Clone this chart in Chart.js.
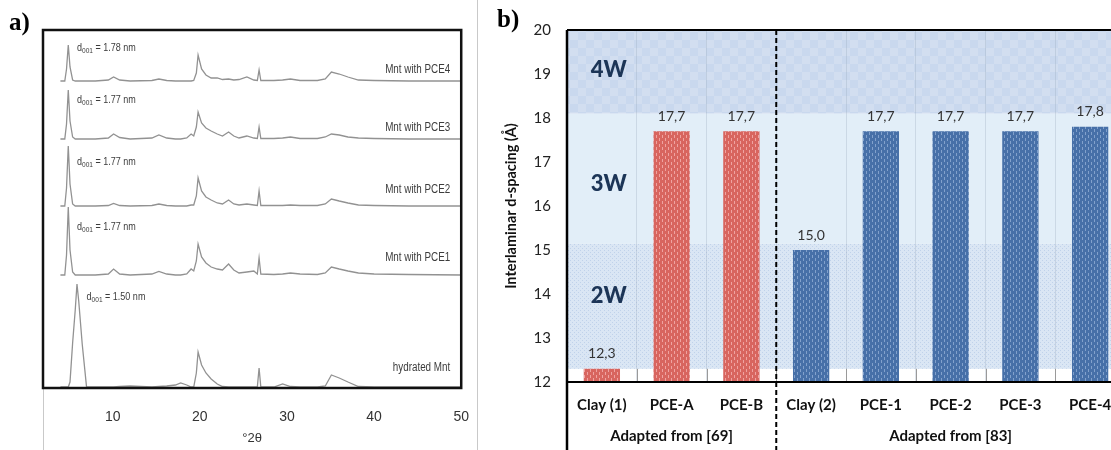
<!DOCTYPE html>
<html lang="en">
<head>
<meta charset="UTF-8">
<title>XRD patterns and interlaminar d-spacing</title>
<script src="https://cdn.jsdelivr.net/npm/chart.js@4.4.0"></script>
<style>
  body { margin: 0; width: 1111px; height: 450px; overflow: hidden; background: #fff; position: relative; }
  canvas { position: absolute; top: 0; }
  #xrd { left: 0; }
  #spacing { left: 490px; }
  .tag { position: absolute; font: bold 25px "Liberation Serif", serif; line-height: 1; color: #000; }
</style>
</head>
<body>
<canvas id="xrd" width="490" height="450"></canvas>
<canvas id="spacing" width="640" height="450"></canvas>
<div class="tag" style="left:9px; top:9px">a)</div>
<div class="tag" style="left:497px; top:6px">b)</div>

<script>
  // ---------- a) XRD patterns ----------
  const twoTheta = [
    4.0, 4.5, 4.7, 4.9, 5.1, 5.4, 5.7, 5.9, 6.1, 6.5, 7.0, 8.0, 9.5,
    10.1, 10.8, 12.0, 14.5, 15.3, 16.2, 17.2, 17.8, 18.5, 19.0, 19.3, 19.6, 19.8,
    20.2, 20.7, 21.3, 22.0, 22.6, 23.3, 23.9, 24.5, 25.4, 26.2, 26.6, 26.8, 27.0,
    28.5, 29.5, 30.4, 31.5, 33.5, 34.4, 35.1, 36.0, 37.0, 38.2, 40.0, 44.0, 50.0
  ];
  const hydratedMnt = [
    0, 0, 0, 0, 5, 44, 77, 103, 86, 43, 0, 0, 0,
    0, 0.5, 1, 0, 0.5, 1, 2, 4, 2, 0, 0, 14, 35,
    22, 14, 8, 3, 0.5, 0, 0, 0, 0, 0, 0, 19, 0,
    0, 3, 0.5, 0, 0, 1, 12, 9, 5, 0.5, 0, 0, 0
  ];
  const mntPCE1 = [
    0, 0, 20, 68, 25, 3, 0, 0, 0, 0, 0, 0, 1,
    6, 1, 0, 1, 3.5, 1, 0, 0, 1, 6, 4, 14, 31,
    18, 12, 8, 6, 5, 11, 5, 2, 3, 4, 1, 17, 1,
    0.5, 1, 2, 1, 0.5, 2, 8, 6, 4, 2, 1, 0.5, 0
  ];
  const mntPCE2 = [
    0, 0, 18, 60, 22, 2, 0, 0, 0, 0, 0, 0, 0.5,
    2.5, 0.5, 0, 0.5, 2, 0.5, 0, 0, 0, 1, 1, 10, 28,
    15, 9, 6, 3, 2, 6, 2, 1, 2, 1, 0.5, 15, 0.5,
    0.5, 0.5, 1, 0.5, 0.5, 2, 7, 5, 3, 1, 0.5, 0, 0
  ];
  const mntPCE3 = [
    0, 0, 15, 49, 18, 2, 0, 0, 0, 0, 0, 0, 1,
    5, 1.5, 0, 1, 4, 1, 0, 0, 1, 5, 3, 12, 27,
    16, 11, 8, 5, 3, 7, 3, 1, 3, 1, 0.5, 12, 0.5,
    0.5, 1, 2, 0.5, 0.5, 2, 5, 4, 2, 1, 0.5, 0, 0
  ];
  const mntPCE4 = [
    0, 0, 12, 36, 14, 1, 0, 0, 0, 0, 0, 0, 1,
    4, 1, 0, 0.5, 2, 0.5, 0, 0, 0, 0, 0.5, 8, 26,
    12, 6, 3, 3, 1.5, 2, 1, 1.5, 4, 1, 0.5, 11, 0.5,
    0.5, 1, 2, 0.5, 0.5, 2, 9, 7, 4, 1, 0.5, 0, 0
  ];
  const traceNames = ['hydrated Mnt', 'Mnt with PCE1', 'Mnt with PCE2', 'Mnt with PCE3', 'Mnt with PCE4'];
  const traceOffsets = [1, 113, 182, 249, 307];
  const d001Values = ['1.50', '1.77', '1.77', '1.77', '1.78'];
  const xrdTicks = [10, 20, 30, 40, 50];

  // ---------- b) interlaminar d-spacing ----------
  const samples = ['Clay (1)', 'PCE-A', 'PCE-B', 'Clay (2)', 'PCE-1', 'PCE-2', 'PCE-3', 'PCE-4'];
  const dSpacing = [12.3, 17.7, 17.7, 15.0, 17.7, 17.7, 17.7, 17.8];
  const groupNames = ['Adapted from [69]', 'Adapted from [83]'];
  const groupSizes = [3, 5];
  const bandEdges = [12.3, 15.15, 18.1, 20];
  const bandNames = ['2W', '3W', '4W'];

  const SANS = '"Liberation Sans", Arial, sans-serif';
  const SQUEEZE = 0.82;   // condensed look for the pattern annotations

  const xrdSeries = [hydratedMnt, mntPCE1, mntPCE2, mntPCE3, mntPCE4];

  // where the annotations sit, in axis units
  const xrdLabels = {
    nameY: [20, 130, 198, 260, 318],
    dX: [7.0, 5.9, 5.9, 5.9, 5.9],
    dY: [91, 161, 226, 288, 340]
  };

  // draws text squeezed horizontally; returns its drawn width
  function narrowText(ctx, text, x, y, font, align) {
    ctx.font = font;
    const w = ctx.measureText(text).width * SQUEEZE;
    const left = align === 'right' ? x - w : x;
    ctx.save();
    ctx.translate(left, y);
    ctx.scale(SQUEEZE, 1);
    ctx.textAlign = 'left';
    ctx.textBaseline = 'middle';
    ctx.fillText(text, 0, 0);
    ctx.restore();
    return w;
  }

  function drawD(ctx, x, y, val) {
    let w = narrowText(ctx, 'd', x, y, '11px ' + SANS, 'left');
    w += narrowText(ctx, '001', x + w, y + 3, '8px ' + SANS, 'left');
    narrowText(ctx, ' = ' + val + ' nm', x + w, y, '11px ' + SANS, 'left');
  }

  const xrdDecor = {
    id: 'xrdDecor',
    afterDraw(chart) {
      const { ctx, chartArea: a, scales: { x, y } } = chart;
      ctx.save();
      ctx.strokeStyle = '#c9c9c9';
      ctx.lineWidth = 1;
      ctx.beginPath();
      ctx.moveTo(a.left + 0.5, a.bottom);
      ctx.lineTo(a.left + 0.5, chart.height);
      ctx.moveTo(477.5, 0);
      ctx.lineTo(477.5, chart.height);
      ctx.stroke();

      ctx.strokeStyle = '#111';
      ctx.lineWidth = 2.5;
      ctx.strokeRect(a.left, a.top, a.right - a.left, a.bottom - a.top);

      ctx.fillStyle = '#3c3c3c';
      traceNames.forEach((name, i) => {
        narrowText(ctx, name, a.right - 11, y.getPixelForValue(xrdLabels.nameY[i]), '12px ' + SANS, 'right');
        drawD(ctx, x.getPixelForValue(xrdLabels.dX[i]), y.getPixelForValue(xrdLabels.dY[i]), d001Values[i]);
      });
      ctx.restore();
    }
  };

  new Chart(document.getElementById('xrd'), {
    type: 'line',
    data: {
      datasets: xrdSeries.map((vals, i) => ({
        label: traceNames[i],
        data: twoTheta.map((t, k) => ({ x: t, y: vals[k] + traceOffsets[i] })),
        borderColor: '#929292',
        borderWidth: 1.3,
        pointRadius: 0,
        tension: 0
      }))
    },
    options: {
      responsive: false,
      animation: false,
      layout: { padding: { left: 43, right: 24, top: 30, bottom: 0 } },
      plugins: { legend: { display: false }, tooltip: { enabled: false } },
      scales: {
        x: {
          type: 'linear',
          min: 2,
          max: 50,
          grid: { display: false, drawTicks: false },
          border: { display: false },
          afterBuildTicks: s => { s.ticks = xrdTicks.map(v => ({ value: v })); },
          ticks: { padding: 21, color: '#333', font: { family: SANS, size: 14 } },
          title: { display: true, text: '°2θ', color: '#333', font: { family: SANS, size: 13 }, padding: { top: 0, bottom: 4 } },
          afterFit: s => { s.height = 62; }
        },
        y: { display: false, min: 0, max: 358 }
      }
    },
    plugins: [xrdDecor]
  });

  // ---------- fills for panel b ----------
  function makePattern(w, h, draw) {
    const c = document.createElement('canvas');
    c.width = w;
    c.height = h;
    const g = c.getContext('2d');
    draw(g);
    return g.createPattern(c, 'repeat');
  }

  const redFill = makePattern(6, 6, g => {
    g.fillStyle = '#d8655f';
    g.fillRect(0, 0, 6, 6);
    g.fillStyle = 'rgba(255,205,205,0.6)';
    g.fillRect(1, 0, 1, 3);
    g.fillRect(4, 3, 1, 3);
  });
  const blueFill = makePattern(6, 6, g => {
    g.fillStyle = '#4770a8';
    g.fillRect(0, 0, 6, 6);
    g.fillStyle = 'rgba(190,210,240,0.5)';
    g.fillRect(1, 0, 1, 3);
    g.fillRect(4, 3, 1, 3);
  });
  const bandFills = [
    makePattern(4, 4, g => {
      g.fillStyle = '#dae6f4';
      g.fillRect(0, 0, 4, 4);
      g.fillStyle = '#c0d2ea';
      g.fillRect(0, 0, 1, 1);
      g.fillRect(2, 2, 1, 1);
    }),
    '#e2eef8',
    makePattern(16, 16, g => {
      g.fillStyle = '#c9d8ee';
      g.fillRect(0, 0, 16, 16);
      g.fillStyle = '#d2def0';
      g.fillRect(0, 0, 8, 8);
      g.fillRect(8, 8, 8, 8);
    })
  ];

  const groupOf = i => {
    let end = 0;
    for (let g = 0; g < groupSizes.length; g++) {
      end += groupSizes[g];
      if (i < end) return g;
    }
    return groupSizes.length - 1;
  };

  const bandLabelAt = [13.95, 16.5, 19.1];

  const spacingDecor = {
    id: 'spacingDecor',
    beforeDraw(chart) {
      const { ctx, chartArea: a, scales: { y } } = chart;
      ctx.save();
      bandNames.forEach((n, i) => {
        const top = y.getPixelForValue(bandEdges[i + 1]);
        const bot = y.getPixelForValue(bandEdges[i]);
        ctx.fillStyle = bandFills[i];
        ctx.fillRect(a.left, top, a.right - a.left, bot - top);
      });
      ctx.restore();
    },
    afterDatasetsDraw(chart) {
      const { ctx, scales: { x, y } } = chart;
      ctx.save();
      // separators in the white strip under the 2W band
      ctx.strokeStyle = '#9a9a9a';
      ctx.lineWidth = 1;
      ctx.beginPath();
      for (let k = 1; k < samples.length; k++) {
        const px = Math.round((x.getPixelForValue(k - 1) + x.getPixelForValue(k)) / 2) + 0.5;
        ctx.moveTo(px, y.getPixelForValue(12));
        ctx.lineTo(px, y.getPixelForValue(bandEdges[0]));
      }
      ctx.stroke();

      // value labels
      ctx.fillStyle = '#333';
      ctx.font = '14px Lato, sans-serif';
      ctx.textAlign = 'center';
      ctx.textBaseline = 'middle';
      chart.getDatasetMeta(0).data.forEach((bar, i) => {
        ctx.fillText(dSpacing[i].toFixed(1).replace('.', ','), bar.x, bar.y - 15);
      });

      // hydration states
      ctx.fillStyle = '#1c3557';
      ctx.font = '900 22px Lato, sans-serif';
      bandNames.forEach((n, i) => {
        ctx.fillText(n, x.getPixelForValue(0) + 7, y.getPixelForValue(bandLabelAt[i]));
      });
      ctx.restore();
    },
    afterDraw(chart) {
      const { ctx, chartArea: a, scales: { x } } = chart;
      ctx.save();
      ctx.strokeStyle = '#000';
      ctx.lineWidth = 2.5;
      ctx.beginPath();
      ctx.moveTo(a.left, a.top);
      ctx.lineTo(a.left, chart.height);
      ctx.stroke();
      ctx.lineWidth = 2;
      ctx.beginPath();
      ctx.moveTo(a.left, a.top);
      ctx.lineTo(a.right, a.top);
      ctx.moveTo(a.left, a.bottom);
      ctx.lineTo(a.right, a.bottom);
      ctx.stroke();

      // dashed divider between the two sources
      const last = groupSizes[0] - 1;
      const divX = (x.getPixelForValue(last) + x.getPixelForValue(last + 1)) / 2;
      ctx.setLineDash([5, 3]);
      ctx.beginPath();
      ctx.moveTo(divX, a.top);
      ctx.lineTo(divX, chart.height);
      ctx.stroke();
      ctx.setLineDash([]);

      // source captions
      ctx.fillStyle = '#111';
      ctx.font = 'bold 15px Lato, sans-serif';
      ctx.textAlign = 'center';
      ctx.textBaseline = 'middle';
      let start = 0;
      groupNames.forEach((name, g) => {
        const end = start + groupSizes[g] - 1;
        const cx = (x.getPixelForValue(start) + x.getPixelForValue(end)) / 2;
        ctx.fillText(name, cx, chart.height - 14);
        start = end + 1;
      });
      ctx.restore();
    }
  };

  new Chart(document.getElementById('spacing'), {
    type: 'bar',
    data: {
      labels: samples,
      datasets: [{
        data: dSpacing,
        backgroundColor: samples.map((s, i) => groupOf(i) === 0 ? redFill : blueFill),
        borderWidth: 0,
        barPercentage: 0.52,
        categoryPercentage: 1
      }]
    },
    options: {
      responsive: false,
      animation: false,
      layout: { padding: { left: 0, right: 5, top: 30, bottom: 0 } },
      plugins: { legend: { display: false }, tooltip: { enabled: false } },
      scales: {
        x: {
          grid: { color: 'rgba(150,165,185,0.3)', drawTicks: false, offset: true },
          border: { display: false },
          ticks: { padding: 14, color: '#111', autoSkip: false, maxRotation: 0, font: { family: 'Lato', size: 15, weight: 'bold' } },
          afterFit: s => { s.height = 68; }
        },
        y: {
          min: 12,
          max: 20,
          grid: { display: false, drawTicks: false },
          border: { display: false },
          ticks: { stepSize: 1, padding: 16, color: '#222', font: { family: 'Lato', size: 15 } },
          title: {
            display: true,
            text: 'Interlaminar d-spacing (Å)',
            color: '#111',
            font: { family: 'Lato', size: 14.5, weight: 'bold' },
            padding: { top: 13, bottom: 0 }
          },
          afterFit: s => { s.width = 77; }
        }
      }
    },
    plugins: [spacingDecor]
  });
</script>
</body>
</html>
